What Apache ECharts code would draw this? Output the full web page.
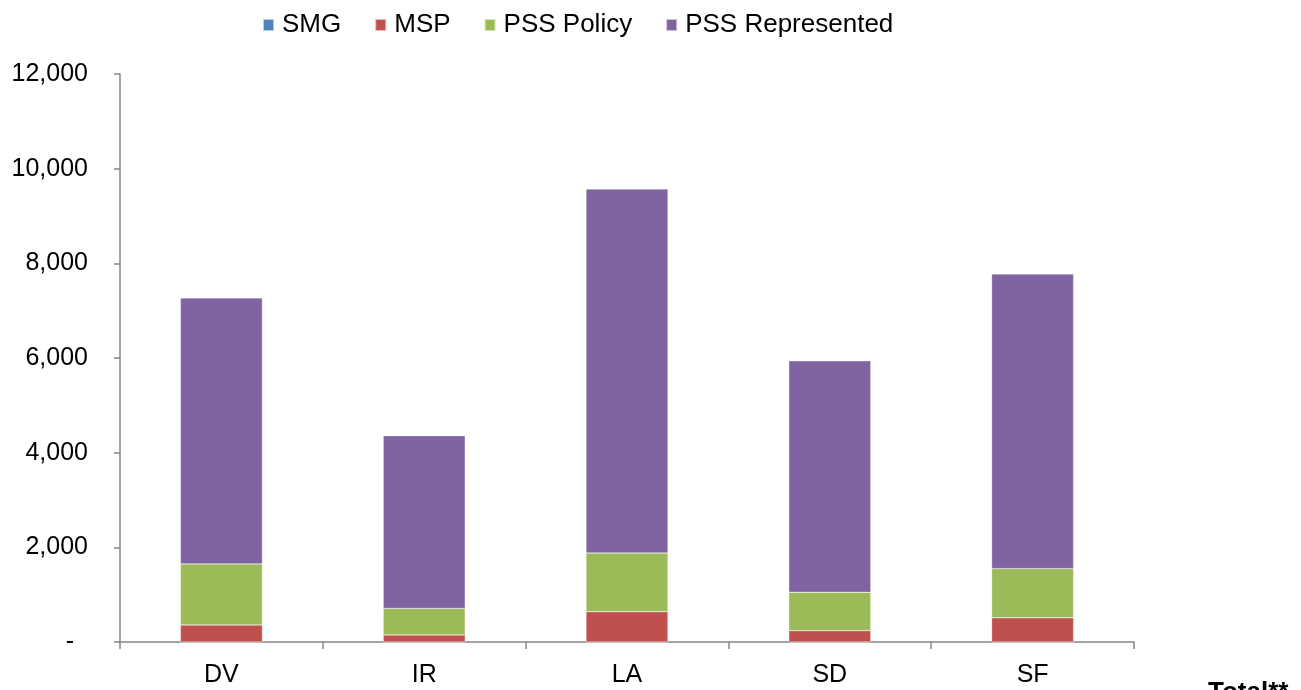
<!DOCTYPE html>
<html>
<head>
<meta charset="utf-8">
<script src="https://cdn.jsdelivr.net/npm/echarts@6/dist/echarts.min.js"></script>
<style>html,body{margin:0;padding:0;background:#fff;}#c{width:1301px;height:690px;}</style>
</head>
<body>
<div id="c"></div>
<script>
const categories = ['DV', 'IR', 'LA', 'SD', 'SF'];
const smg = [0, 0, 0, 0, 0];
const msp = [360, 150, 640, 240, 510];
const pssPolicy = [1290, 560, 1240, 810, 1040];
const pssRepresented = [5620, 3650, 7690, 4890, 6225];
const yTicks = [0, 2000, 4000, 6000, 8000, 10000, 12000];

const font = 'Liberation Sans, Arial, sans-serif';
const chart = echarts.init(document.getElementById('c'));
const mk = (name, data, color) => ({
  name, type: 'bar', stack: 'all', data, barWidth: 82,
  itemStyle: { color, borderColor: 'rgba(255,255,255,0.6)', borderWidth: 0.5 },
  emphasis: { disabled: true }
});
chart.setOption({
  animation: false,
  legend: {
    left: 257, top: 7, itemWidth: 11, itemHeight: 12, itemGap: 33, icon: 'rect',
    textStyle: { fontFamily: font, fontSize: 26, color: '#000', padding: [0, 0, 0, 3] },
    data: ['SMG', 'MSP', 'PSS Policy', 'PSS Represented']
  },
  grid: { left: 120, right: 167, top: 74, bottom: 48, containLabel: false },
  xAxis: {
    type: 'category', data: categories,
    axisLine: { lineStyle: { color: '#868686', width: 1.5 } },
    axisTick: { show: true, length: 7, lineStyle: { color: '#868686', width: 1.5 } },
    axisLabel: { fontFamily: font, fontSize: 25, color: '#000', margin: 21 }
  },
  yAxis: {
    type: 'value', min: yTicks[0], max: yTicks[yTicks.length - 1], interval: 2000,
    splitLine: { show: false },
    axisLine: { show: true, lineStyle: { color: '#868686', width: 1.5 } },
    axisTick: { show: true, length: 6, lineStyle: { color: '#868686', width: 1.5 } },
    axisLabel: {
      fontFamily: font, fontSize: 25, color: '#000', margin: 32,
      formatter: v => v === 0 ? '-\u00a0\u00a0' : v.toLocaleString('en-US')
    }
  },
  graphic: [{
    type: 'text', left: 1208, top: 680,
    style: { text: 'Total**', font: 'bold 26px ' + font, fill: '#000' }
  }],
  series: [
    mk('SMG', smg, '#4F81BD'),
    mk('MSP', msp, '#C0504D'),
    mk('PSS Policy', pssPolicy, '#9BBB59'),
    mk('PSS Represented', pssRepresented, '#8064A2')
  ]
});
</script>
</body>
</html>
